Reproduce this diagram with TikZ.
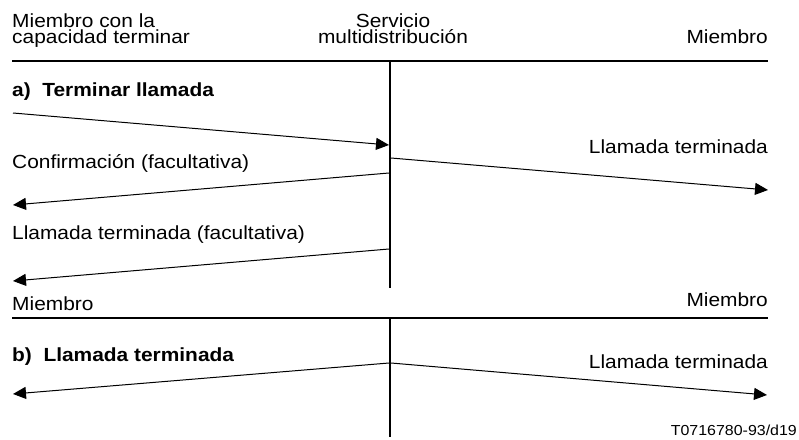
\documentclass[tikz,border=0pt]{standalone}
\usepackage{fontspec}
\setmainfont{Liberation Sans}[FakeStretch=1.1]
\usetikzlibrary{arrows.meta}
\begin{document}
\begin{tikzpicture}[x=1pt,y=-1pt,
  lbl/.style={inner sep=0pt, font=\fontsize{19}{16}\selectfont},
  ttl/.style={inner sep=0pt, font=\fontsize{19}{16}\selectfont\bfseries},
  ref/.style={inner sep=0pt, font=\fontsize{14.5}{17}\selectfont},
  rule/.style={line width=2pt},
  msg/.style={line width=1pt, -{Triangle[length=13pt,width=12pt]}}]
\useasboundingbox (0,0) rectangle (799,439);

% headers
\node[lbl, align=left, anchor=base west] (m1) at (12,43) {Miembro con la\\capacidad terminar};
\node[lbl, align=center, anchor=base] (s1) at (393,43) {Servicio\\multidistribución};
\node[lbl, anchor=base east] (m2) at (768,43) {Miembro};

% lifelines and rules
\coordinate (topL) at (12,61);
\coordinate (topR) at (768,61);
\coordinate (v1t) at (390,61);
\coordinate (v1b) at (390,288);
\coordinate (botL) at (12,318);
\coordinate (botR) at (768,318);
\coordinate (v2t) at (390,318);
\coordinate (v2b) at (390,437);
\draw[rule] (topL) -- (topR);
\draw[rule] (v1t) -- (v1b);
\draw[rule] (botL) -- (botR);
\draw[rule] (v2t) -- (v2b);

% part a
\node[ttl, anchor=base west] (ta) at (12,96) {a)\ \ Terminar llamada};
\coordinate (a1s) at (13,113);
\coordinate (a1e) at (389,145);
\draw[msg] (a1s) -- (a1e);
\node[lbl, anchor=base east] (l1) at (768,153) {Llamada terminada};
\coordinate (a2s) at (391,158);
\coordinate (a2e) at (768,190);
\draw[msg] (a2s) -- (a2e);
\node[lbl, anchor=base west] (l2) at (12,168) {Confirmación (facultativa)};
\coordinate (a3s) at (389,173);
\coordinate (a3e) at (13,205);
\draw[msg] (a3s) -- (a3e);
\node[lbl, anchor=base west] (l3) at (12,239) {Llamada terminada (facultativa)};
\coordinate (a4s) at (389,249);
\coordinate (a4e) at (13,281);
\draw[msg] (a4s) -- (a4e);

% part b headers
\node[lbl, anchor=base west] (m3) at (12,310) {Miembro};
\node[lbl, anchor=base east] (m4) at (768,306) {Miembro};

% part b
\node[ttl, anchor=base west] (tb) at (12,361) {b)\ \ Llamada terminada};
\coordinate (b1s) at (389,363);
\coordinate (b1e) at (13,394);
\draw[msg] (b1s) -- (b1e);
\coordinate (b2s) at (391,363);
\coordinate (b2e) at (767,395);
\draw[msg] (b2s) -- (b2e);
\node[lbl, anchor=base east] (l4) at (768,368) {Llamada terminada};

\node[ref, anchor=base east] (code) at (797,435) {T0716780-93/d19};
\end{tikzpicture}
\end{document}
